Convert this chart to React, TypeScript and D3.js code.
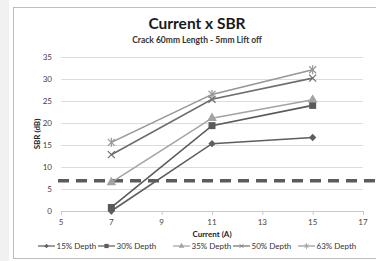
import React from 'react'
import * as d3 from 'd3'

// Current vs SBR, Excel-style line chart with a dashed threshold.
const currents = [7, 11, 15]
const seriesNames = ['15% Depth', '30% Depth', '35% Depth', '50% Depth', '63% Depth']
const depth15 = [0, 15.3, 16.7]
const depth30 = [0.8, 19.4, 24.0]
const depth35 = [6.5, 21.1, 25.3]
const depth50 = [12.8, 25.4, 30.2]
const depth63 = [15.6, 26.5, 32.1]
const threshold = 6.9
const xTicks = [5, 7, 9, 11, 13, 15, 17]
const yTicks = [0, 5, 10, 15, 20, 25, 30, 35]

const COLORS = ['#5e5e5e', '#5a5a5a', '#a3a3a3', '#6e6e6e', '#969696']
const MARKERS = ['diamond', 'square', 'triangle', 'x', 'star']
const FONT = 'Lato, "Open Sans", sans-serif'

function Marker({ kind, x, y, color, k = 1 }: { kind: string; x: number; y: number; color: string; k?: number }) {
  if (kind === 'diamond') {
    const p = d3.symbol(d3.symbolDiamond2, 34 * k * k)()
    return <path d={p ?? ''} transform={`translate(${x},${y})`} fill={color} />
  }
  if (kind === 'square')
    return <rect x={x - 3.5 * k} y={y - 3.5 * k} width={7 * k} height={7 * k} fill={color} />
  if (kind === 'triangle') {
    const p = d3.symbol(d3.symbolTriangle, 40 * k * k)()
    return <path d={p ?? ''} transform={`translate(${x},${y})`} fill={color} />
  }
  const r = 3.5 * k
  return (
    <g stroke={color} strokeWidth={1.2 * k}>
      <line x1={x - r} y1={y - r} x2={x + r} y2={y + r} />
      <line x1={x - r} y1={y + r} x2={x + r} y2={y - r} />
      {kind === 'star' && <line x1={x} y1={y - r - 1} x2={x} y2={y + r + 1} />}
    </g>
  )
}

export default function App() {
  const width = 376
  const height = 261
  const x = d3.scaleLinear().domain([5, 17]).range([61, 363])
  const y = d3.scaleLinear().domain([0, 35]).range([211, 57])
  const data = [depth15, depth30, depth35, depth50, depth63]
  const path = d3.line<number>().x((_, i) => x(currents[i])).y((d) => y(d))
  const legendX = [38, 98, 173, 233, 298]

  return (
    <svg
      width={width}
      height={height}
      style={{ position: 'absolute', left: 0, top: 0, fontFamily: FONT }}
    >
      <rect x={0} y={0} width={width} height={height} fill="#fff" />
      <rect x={0} y={0} width={9} height={height} fill="#f1f1f1" />
      <rect x={13.5} y={7.5} width={width} height={251} fill="#fff" stroke="#bdbdbd" />
      <text x={197} y={29} textAnchor="middle" fontSize={15.5} fontWeight="bold" fill="#1a1a1a">
        Current x SBR
      </text>
      <text x={197} y={43} textAnchor="middle" fontSize={8.5} fontWeight="bold" fill="#333">
        Crack 60mm Length - 5mm Lift off
      </text>
      {yTicks.map((t) => (
        <g key={t}>
          <line x1={61} x2={363} y1={y(t) + 0.5} y2={y(t) + 0.5} stroke={t === 0 ? '#c8c8c8' : '#dcdcdc'} />
          <text x={52} y={y(t) + 3} textAnchor="end" fontSize={8} fill="#444">
            {t}
          </text>
        </g>
      ))}
      {xTicks.map((t) => (
        <g key={t}>
          <line x1={x(t) + 0.5} x2={x(t) + 0.5} y1={y(0)} y2={y(0) + 4} stroke="#c8c8c8" />
          <text x={x(t)} y={225} textAnchor="middle" fontSize={8} fill="#444">
            {t}
          </text>
        </g>
      ))}
      <text
        transform={`translate(40,${y(17.5)}) rotate(-90)`}
        textAnchor="middle"
        fontSize={8}
        fontWeight="bold"
        fill="#222"
      >
        SBR (dB)
      </text>
      <text x={212} y={237} textAnchor="middle" fontSize={8} fontWeight="bold" fill="#222">
        Current (A)
      </text>
      <line
        x1={58}
        x2={376}
        y1={y(threshold)}
        y2={y(threshold)}
        stroke="#5c5c5c"
        strokeWidth={3.5}
        strokeDasharray="11 7"
      />
      {data.map((vals, s) => (
        <g key={seriesNames[s]}>
          <path d={path(vals) ?? ''} fill="none" stroke={COLORS[s]} strokeWidth={1.6} />
          {vals.map((v, i) => (
            <Marker key={i} kind={MARKERS[s]} x={x(currents[i])} y={y(v)} color={COLORS[s]} />
          ))}
        </g>
      ))}
      {seriesNames.map((n, s) => (
        <g key={n}>
          <line x1={legendX[s]} x2={legendX[s] + 17} y1={246} y2={246} stroke={COLORS[s]} strokeWidth={1.2} />
          <Marker kind={MARKERS[s]} x={legendX[s] + 8.5} y={246} color={COLORS[s]} k={0.6} />
          <text x={legendX[s] + 18.5} y={249} fontSize={8} fill="#333">
            {n}
          </text>
        </g>
      ))}
    </svg>
  )
}
